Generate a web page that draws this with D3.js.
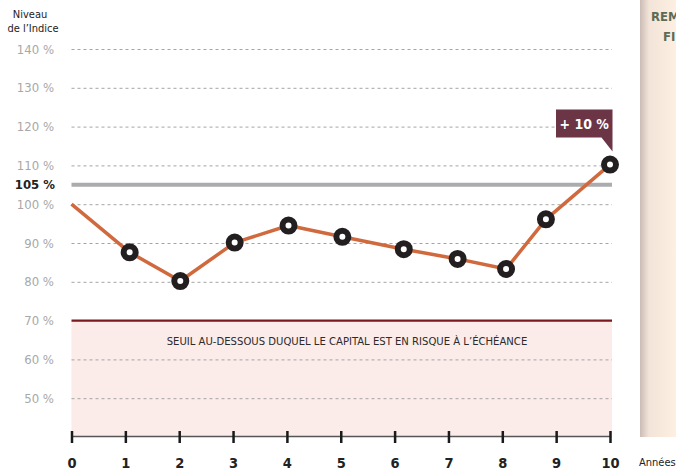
<!DOCTYPE html>
<html><head><meta charset="utf-8">
<script src="https://cdn.jsdelivr.net/npm/d3@7"></script>
<style>
html,body{margin:0;padding:0;background:#fff;}
svg{display:block;}
</style></head>
<body>
<svg id="c" width="676" height="470"></svg>
<script>
// ---- data ----
const years = [0, 1.08, 2.02, 3.03, 4.03, 5.03, 6.17, 7.17, 8.07, 8.81, 10];
const values = [100, 87.6, 80.2, 90.1, 94.5, 91.6, 88.4, 85.9, 83.3, 96.1, 110.2];
const xTicks = [0,1,2,3,4,5,6,7,8,9,10];
const gridTicks = [50, 60, 80, 90, 100, 110, 120, 130, 140];
const yLabels = [50, 60, 70, 80, 90, 100, 110, 120, 130, 140];
const barrier = 70;
const threshold = 105;
const finalLabel = "+ 10 %";
const barrierText = "SEUIL AU-DESSOUS DUQUEL LE CAPITAL EST EN RISQUE À L’ÉCHÉANCE";

const cond = "'DejaVu Sans Condensed','Liberation Sans Narrow','Roboto Condensed','DejaVu Sans',sans-serif";
const svg = d3.select("#c");
const x = d3.scaleLinear().domain([0,10]).range([71.5, 610]);
const y = d3.scaleLinear().domain([40,140]).range([437, 49]);
const x0 = x(0), x1 = x(10) + 2;

// right side panel
const defs = svg.append("defs");
const g1 = defs.append("linearGradient").attr("id","pg").attr("x1","0").attr("x2","1");
g1.append("stop").attr("offset","0").attr("stop-color","#cbbdb6");
g1.append("stop").attr("offset","0.25").attr("stop-color","#f2e4d8");
g1.append("stop").attr("offset","1").attr("stop-color","#fdf0e2");
svg.append("rect").attr("x",640).attr("y",0).attr("width",36).attr("height",437).attr("fill","url(#pg)");
svg.append("text").attr("x",651).attr("y",20.5).text("REM")
  .attr("font-family",cond).attr("font-weight","bold").attr("font-size",13).attr("fill","#5d6b55");
svg.append("text").attr("x",663).attr("y",41).text("FI")
  .attr("font-family",cond).attr("font-weight","bold").attr("font-size",13).attr("fill","#5d6b55");

// risk zone
svg.append("rect").attr("x",x0).attr("y",y(barrier)).attr("width",x1-x0).attr("height",y(40)-y(barrier))
  .attr("fill","#fbecea");

// gridlines
svg.append("g").selectAll("line").data(gridTicks).join("line")
  .attr("x1",x0).attr("x2",x1).attr("y1",d=>y(d)+0.5).attr("y2",d=>y(d)+0.5)
  .attr("stroke","#a4a4a4").attr("stroke-width",1).attr("stroke-dasharray","3,3");

// barrier line
svg.append("line").attr("x1",x0).attr("x2",x1).attr("y1",y(barrier)).attr("y2",y(barrier))
  .attr("stroke","#7b1a1e").attr("stroke-width",2.2);
svg.append("text").attr("x",347).attr("y",y(barrier)+24).attr("text-anchor","middle")
  .attr("font-family",cond).attr("font-size",11.2).attr("fill","#2b2b2b").text(barrierText);

// threshold line
svg.append("line").attr("x1",x0).attr("x2",x1).attr("y1",y(threshold)).attr("y2",y(threshold))
  .attr("stroke","#abacae").attr("stroke-width",4);

// y labels
svg.append("g").selectAll("text").data(yLabels).join("text")
  .attr("x",54).attr("y",d=>y(d)+4.5).attr("text-anchor","end")
  .attr("font-family",cond).attr("font-size",13).attr("fill","#a8a8a8").text(d=>d+" %");
svg.append("text").attr("x",55).attr("y",y(threshold)+4.5).attr("text-anchor","end")
  .attr("font-family",cond).attr("font-weight","bold").attr("font-size",13).attr("fill","#222").text(threshold+" %");

// y title
svg.append("text").attr("x",30).attr("y",18).attr("text-anchor","middle")
  .attr("font-family",cond).attr("font-size",11).attr("fill","#222").text("Niveau");
svg.append("text").attr("x",33).attr("y",31.5).attr("text-anchor","middle")
  .attr("font-family",cond).attr("font-size",11).attr("fill","#222").text("de l’Indice");

// x axis
const xa = svg.append("g").attr("transform",`translate(0,${436})`)
  .call(d3.axisBottom(x).tickValues(xTicks).tickSize(0).tickFormat(d3.format("d")));
xa.select(".domain").attr("stroke","#555").attr("stroke-width",1.5);
xa.selectAll(".tick line").remove();
xa.selectAll(".tick").append("line").attr("y1",-5).attr("y2",7).attr("stroke","#1a1a1a").attr("stroke-width",2.5);
xa.selectAll(".tick text").attr("dy",0).attr("y",31.5)
  .attr("font-family",cond).attr("font-weight","bold").attr("font-size",14.5).attr("fill","#222");
svg.append("text").attr("x",639).attr("y",465.5).text("Années")
  .attr("font-family",cond).attr("font-size",11).attr("fill","#222");

// line
const pts = years.map((yr,i)=>({x:yr,v:values[i]}));
svg.append("path").datum(pts)
  .attr("d", d3.line().x(d=>x(d.x)).y(d=>y(d.v)))
  .attr("fill","none").attr("stroke","#d06a3e").attr("stroke-width",3.5).attr("stroke-linejoin","round");

// markers
svg.append("g").selectAll("circle").data(pts.slice(1)).join("circle")
  .attr("cx",d=>x(d.x)).attr("cy",d=>y(d.v)).attr("r",6)
  .attr("fill","#fff").attr("stroke","#231f20").attr("stroke-width",6);

// callout
const last = pts[pts.length-1];
const lx = x(last.x), ly = y(last.v);
const bx1 = lx + 2.5, bx0 = bx1 - 56.5, by1 = ly - 27, by0 = by1 - 28;
svg.append("path")
  .attr("d",`M${bx0},${by0}H${bx1}V${ly-13}L${bx1-11},${by1}H${bx0}Z`)
  .attr("fill","#6b3546");
svg.append("text").attr("x",(bx0+bx1)/2).attr("y",(by0+by1)/2+5).attr("text-anchor","middle")
  .attr("font-family",cond).attr("font-weight","bold").attr("font-size",14).attr("fill","#fff").text(finalLabel);
</script>
</body></html>
